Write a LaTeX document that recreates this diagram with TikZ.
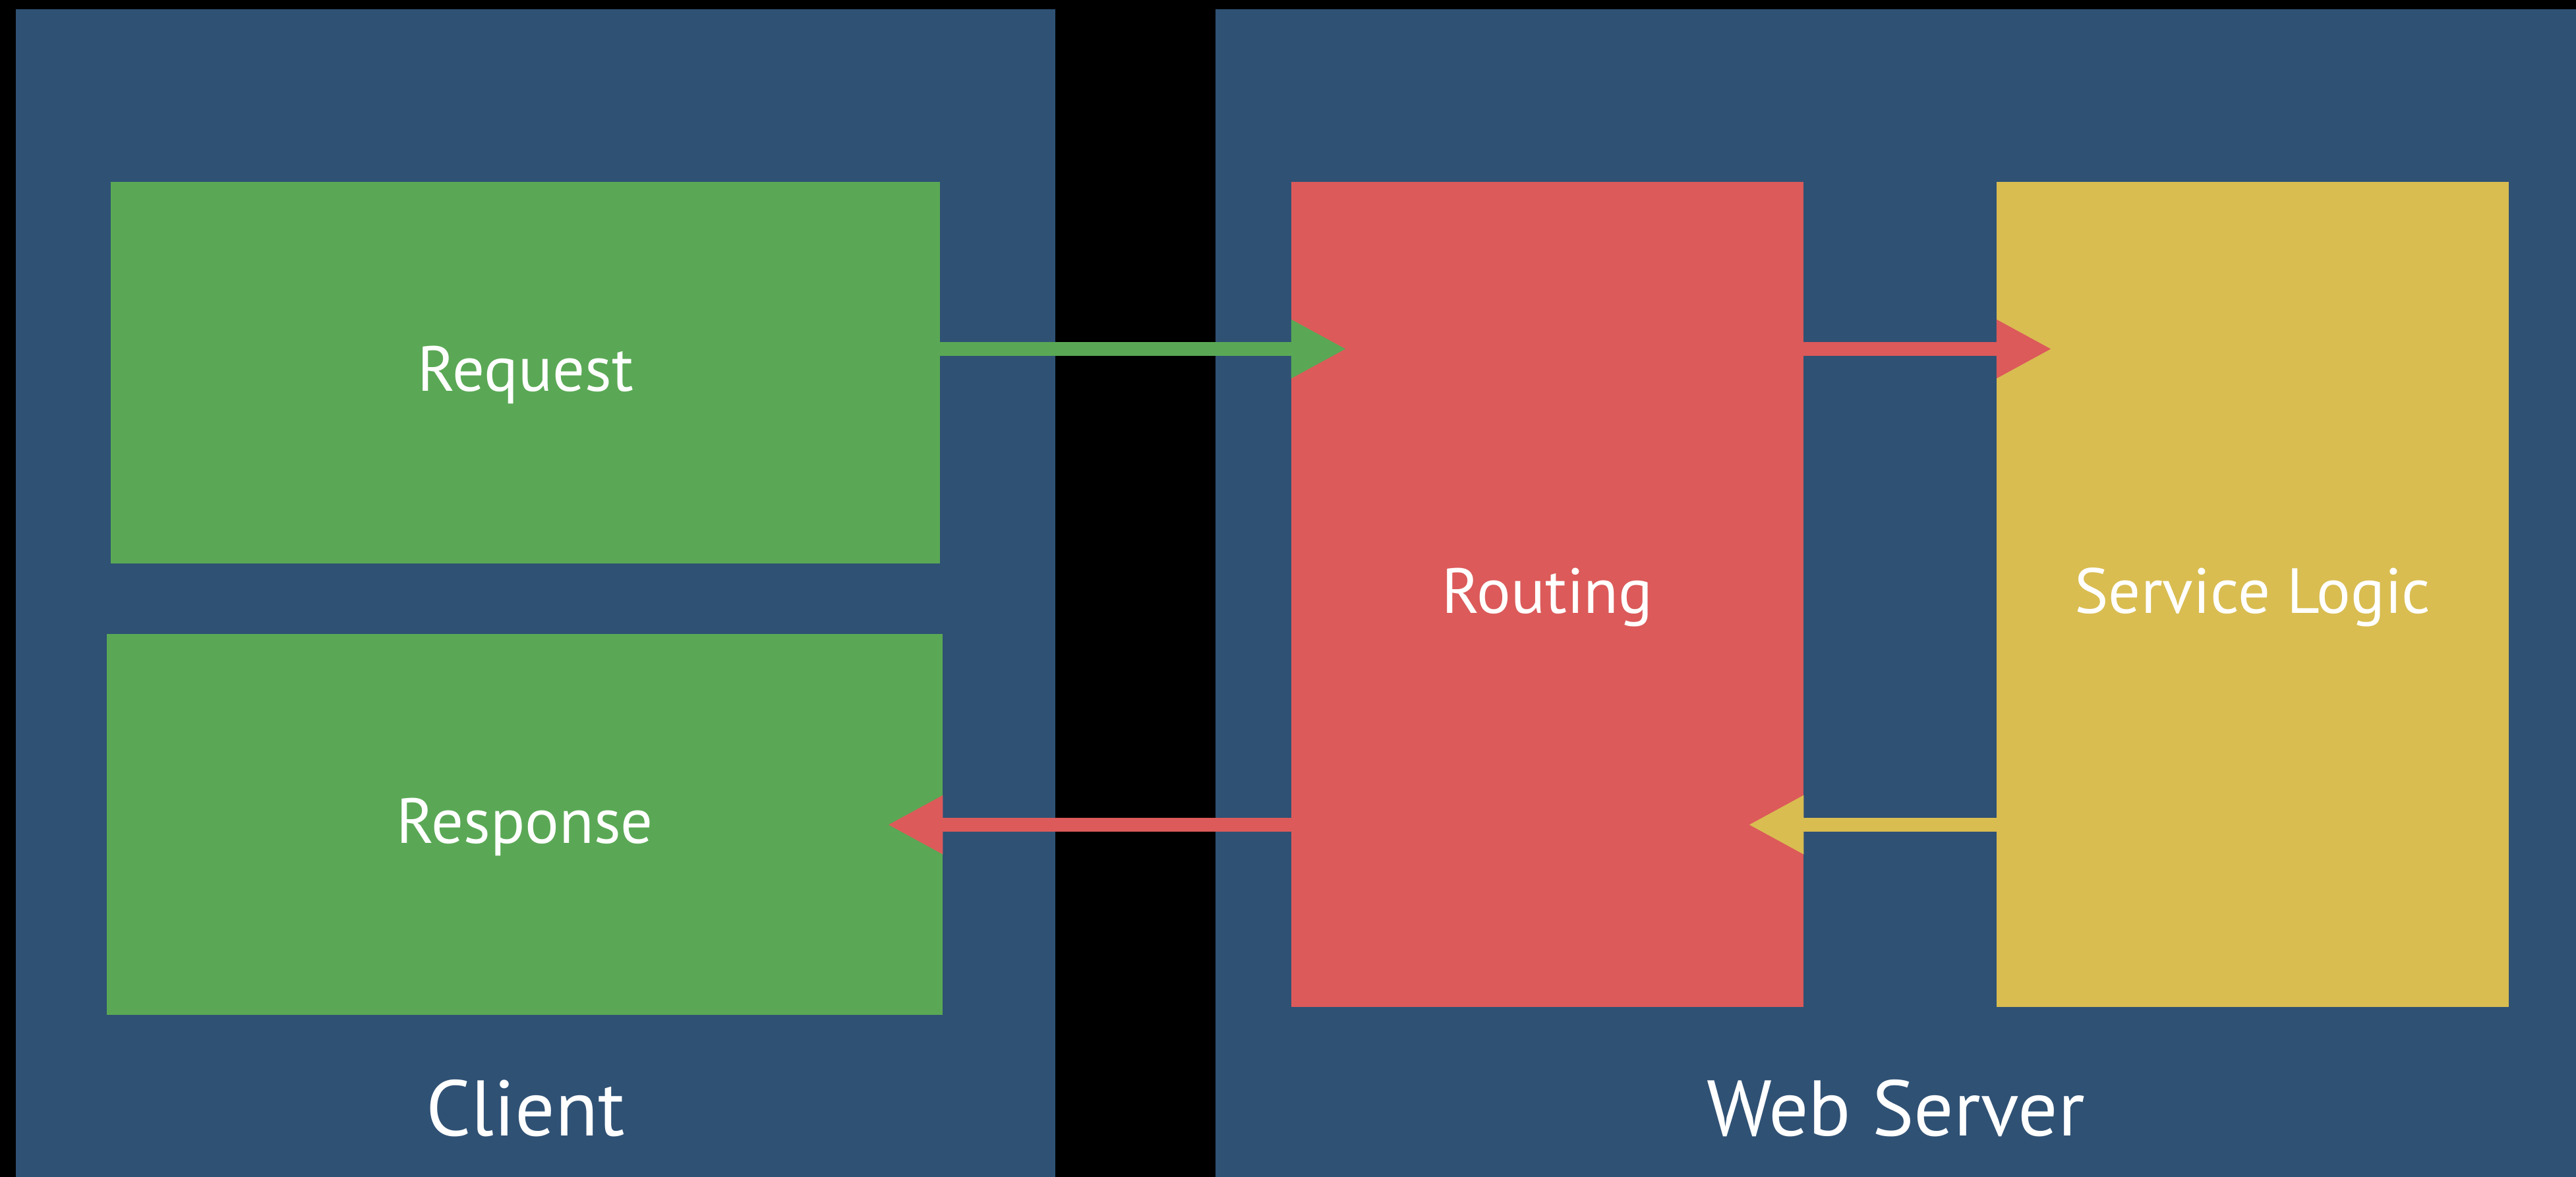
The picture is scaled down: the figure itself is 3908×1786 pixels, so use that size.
\documentclass[tikz,border=0pt]{standalone}
\usepackage{fontspec}
\setmainfont{PT Sans}
\usetikzlibrary{arrows.meta}
\definecolor{navy}{HTML}{2F5174}
\definecolor{boxgreen}{HTML}{5AA855}
\definecolor{boxred}{HTML}{DC5A5A}
\definecolor{boxyellow}{HTML}{D9BD51}
\begin{document}
\begin{tikzpicture}[x=0.01cm,y=-0.01cm,
  panel/.style={fill=navy,draw=none,inner sep=0pt,outer sep=0pt},
  blockbox/.style={draw=none,inner sep=0pt,outer sep=0pt,text=white,
    font=\fontsize{27.5pt}{31pt}\selectfont,text height=16pt,text depth=0pt},
  panellabel/.style={inner sep=0pt,text=white,
    font=\fontsize{34pt}{40pt}\selectfont,text height=26pt,text depth=0pt},
  flow/.style={line width=5.97pt,line cap=butt,-{Triangle[length=0.84cm,width=0.83cm]},shorten >=-0.84cm}
]
\fill[black] (0,0) rectangle (3908,1786);
\useasboundingbox (0,0) rectangle (3908,1786);
% panels
\node[panel,minimum width=15.76cm,minimum height=17.72cm,anchor=north west] (client) at (24,14) {};
\node[panel,minimum width=20.64cm,minimum height=17.72cm,anchor=north west] (server) at (1844,14) {};
% blocks
\node[blockbox,fill=boxgreen,minimum width=12.58cm,minimum height=5.79cm] (request) at (797,565.5) {Request};
\node[blockbox,fill=boxgreen,minimum width=12.68cm,minimum height=5.78cm] (response) at (796,1251) {Response};
\node[blockbox,fill=boxred,minimum width=7.77cm,minimum height=12.52cm] (routing) at (2347.5,902) {Routing};
\node[blockbox,fill=boxyellow,minimum width=7.77cm,minimum height=12.52cm] (service) at (3417.5,902) {Service Logic};
% panel labels
\node[panellabel] (clientlabel) at (797,1678) {Client};
\node[panellabel] (serverlabel) at (2876,1678) {Web Server};
% arrow levels
\coordinate (top) at (0,529.5);
\coordinate (bot) at (0,1251.5);
\draw[flow,boxgreen] (request.east |- top) -- (routing.west |- top);
\draw[flow,boxred] (routing.east |- top) -- (service.west |- top);
\draw[flow,boxyellow] (service.west |- bot) -- (routing.east |- bot);
\draw[flow,boxred] (routing.west |- bot) -- (response.east |- bot);
\end{tikzpicture}
\end{document}
